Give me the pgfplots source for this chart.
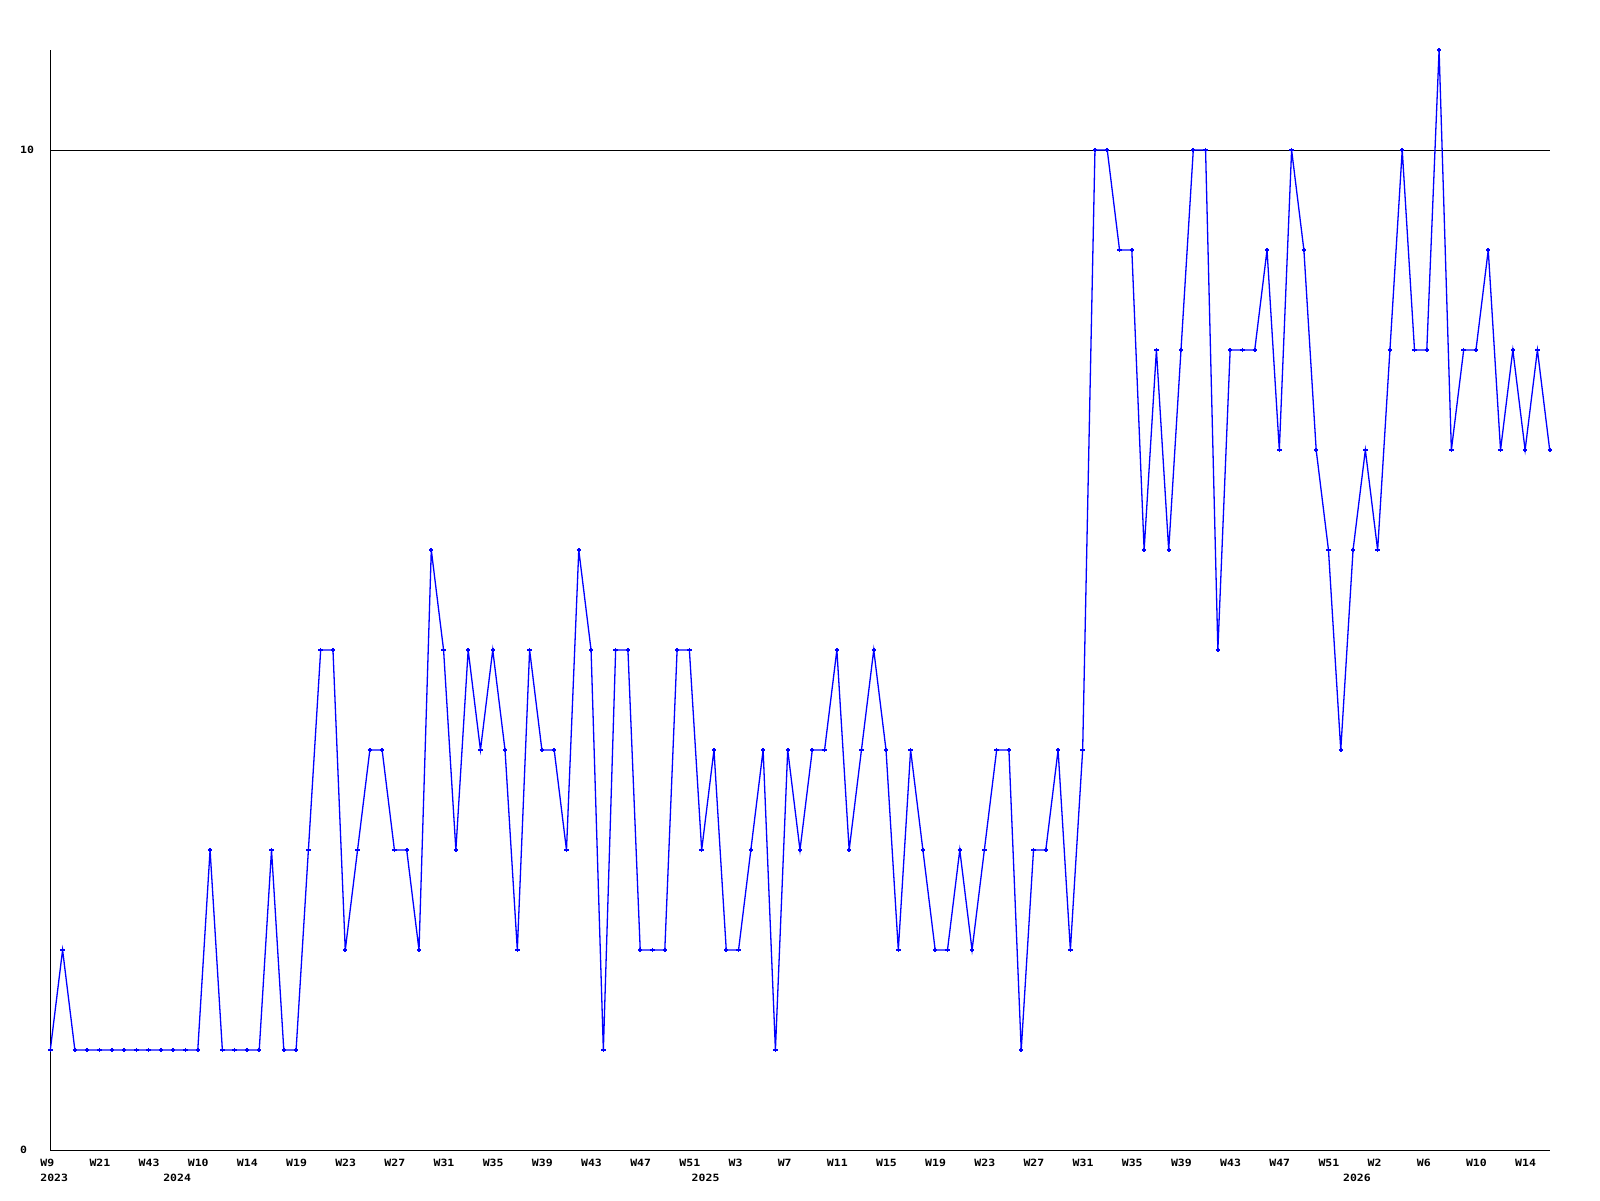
\documentclass[border=0pt]{standalone}
\usepackage{pgfplots}
\pgfplotsset{compat=1.18}
\usepackage{fontspec}
\setmonofont[FakeStretch=1.15]{DejaVu Sans Mono}
\newcommand{\lblfont}{\fontsize{10}{11}\selectfont\ttfamily\bfseries}
\begin{document}
\begin{tikzpicture}[x=1pt,y=1pt]
\useasboundingbox (0pt,0pt) rectangle (1600pt,1200pt);
\begin{axis}[
  at={(50.3pt,50pt)}, anchor=south west,
  scale only axis, width=1499.4pt, height=1100pt,
  xmin=0, xmax=122, ymin=0, ymax=11,
  enlargelimits=false, clip=false,
  axis x line=bottom, axis y line=left,
  axis line style={-, black, line width=1pt},
  major tick length=0pt,
  /pgf/number format/assume math mode=true,
  xtick={0,4,...,120},
  xticklabels={W9,W21,W43,W10,W14,W19,W23,W27,W31,W35,W39,W43,W47,W51,W3,W7,W11,W15,W19,W23,W27,W31,W35,W39,W43,W47,W51,W2,W6,W10,W14},
  xticklabel style={font=\lblfont, inner sep=0pt, anchor=north, text width=19.9pt, align=left, yshift=-9pt},
  ytick={0,10}, yticklabels={0,10},
  yticklabel style={font=\lblfont, inner sep=0pt, anchor=west, xshift=-30.3pt},
  ymajorgrids=true,
  grid style={black, line width=0.9pt},
]
\addplot[color={rgb,255:red,0;green,0;blue,255}, line width=1.3pt, mark=+, mark size=2.2pt,
  mark options={line width=1.6pt}] table {
x y
0 1
1 2
2 1
3 1
4 1
5 1
6 1
7 1
8 1
9 1
10 1
11 1
12 1
13 3
14 1
15 1
16 1
17 1
18 3
19 1
20 1
21 3
22 5
23 5
24 2
25 3
26 4
27 4
28 3
29 3
30 2
31 6
32 5
33 3
34 5
35 4
36 5
37 4
38 2
39 5
40 4
41 4
42 3
43 6
44 5
45 1
46 5
47 5
48 2
49 2
50 2
51 5
52 5
53 3
54 4
55 2
56 2
57 3
58 4
59 1
60 4
61 3
62 4
63 4
64 5
65 3
66 4
67 5
68 4
69 2
70 4
71 3
72 2
73 2
74 3
75 2
76 3
77 4
78 4
79 1
80 3
81 3
82 4
83 2
84 4
85 10
86 10
87 9
88 9
89 6
90 8
91 6
92 8
93 10
94 10
95 5
96 8
97 8
98 8
99 9
100 7
101 10
102 9
103 7
104 6
105 4
106 6
107 7
108 6
109 8
110 10
111 8
112 8
113 11
114 7
115 8
116 8
117 9
118 7
119 8
120 7
121 8
122 7
};
\node[font=\lblfont, inner sep=0pt, anchor=north, text width=19.9pt, align=left] at (axis cs:0,0) [yshift=-24pt] {2023};
\node[font=\lblfont, inner sep=0pt, anchor=north, text width=19.9pt, align=left] at (axis cs:10,0) [yshift=-24pt] {2024};
\node[font=\lblfont, inner sep=0pt, anchor=north, text width=19.9pt, align=left] at (axis cs:53,0) [yshift=-24pt] {2025};
\node[font=\lblfont, inner sep=0pt, anchor=north, text width=19.9pt, align=left] at (axis cs:106,0) [yshift=-24pt] {2026};
\end{axis}
\end{tikzpicture}
\end{document}
